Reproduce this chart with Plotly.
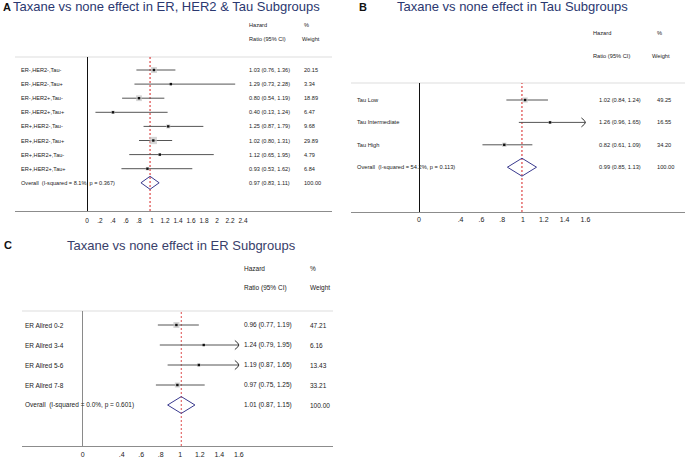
import plotly.graph_objects as go

W, H = 685, 458
FONT = "Liberation Sans, Arial, sans-serif"

# ---------------- data ----------------
a_labels = ["ER-,HER2-,Tau-", "ER-,HER2-,Tau+", "ER-,HER2+,Tau-", "ER-,HER2+,Tau+",
            "ER+,HER2-,Tau-", "ER+,HER2-,Tau+", "ER+,HER2+,Tau-", "ER+,HER2+,Tau+"]
a_hr = [1.03, 1.29, 0.80, 0.40, 1.25, 1.02, 1.12, 0.93]
a_lo = [0.76, 0.73, 0.54, 0.13, 0.87, 0.80, 0.65, 0.53]
a_hi = [1.36, 2.28, 1.19, 1.24, 1.79, 1.31, 1.95, 1.62]
a_wt = [20.15, 3.34, 18.89, 6.47, 9.68, 29.89, 4.79, 6.84]
a_overall_label = "Overall  (I-squared = 8.1%, p = 0.367)"
a_overall = [0.97, 0.83, 1.11]
a_ticks = [0, 0.2, 0.4, 0.6, 0.8, 1, 1.2, 1.4, 1.6, 1.8, 2, 2.2, 2.4]
a_ticktext = ["0", ".2", ".4", ".6", ".8", "1", "1.2", "1.4", "1.6", "1.8", "2", "2.2", "2.4"]
a_title = "Taxane vs none effect in ER, HER2 & Tau Subgroups"

b_labels = ["Tau Low", "Tau Intermediate", "Tau High"]
b_hr = [1.02, 1.26, 0.82]
b_lo = [0.84, 0.96, 0.61]
b_hi = [1.24, 1.65, 1.09]
b_wt = [49.25, 16.55, 34.20]
b_overall_label = "Overall  (I-squared = 54.2%, p = 0.113)"
b_overall = [0.99, 0.85, 1.13]
b_ticks = [0, 0.4, 0.6, 0.8, 1, 1.2, 1.4, 1.6]
b_ticktext = ["0", ".4", ".6", ".8", "1", "1.2", "1.4", "1.6"]
b_title = "Taxane vs none effect in Tau Subgroups"

c_labels = ["ER Allred 0-2", "ER Allred 3-4", "ER Allred 5-6", "ER Allred 7-8"]
c_hr = [0.96, 1.24, 1.19, 0.97]
c_lo = [0.77, 0.79, 0.87, 0.75]
c_hi = [1.19, 1.95, 1.65, 1.25]
c_wt = [47.21, 6.16, 13.43, 33.21]
c_overall_label = "Overall  (I-squared = 0.0%, p = 0.601)"
c_overall = [1.01, 0.87, 1.15]
c_ticks = [0, 0.4, 0.6, 0.8, 1, 1.2, 1.4, 1.6]
c_ticktext = ["0", ".4", ".6", ".8", "1", "1.2", "1.4", "1.6"]
c_title = "Taxane vs none effect in ER Subgroups"

# ---------------- layout geometry (pixels) ----------------
GEOM = {
    "A": dict(ax="", zero=87, scale=65, xdom=(15, 332), ydom=(57, 211), row0=70, step=14.1,
              clip=None, box_k=1.33, dia_h=0.46, tfont=5.6, tickfont=6.5, label_x=19,
              hr_x=247, wt_x=302, hdr_x=(247, 302, 300), hdr_y=(25, 39),
              letter_x=0.5, title_x=11, title_y=7, zerocolor="#111", redw=1.0,
              titlecolor="#2b3870", tickstand=3),
    "B": dict(ax="2", zero=419, scale=104, xdom=(351, 685), ydom=(83, 212), row0=100, step=22.4,
              clip=1.6, box_k=0.75, dia_h=0.4, tfont=5.7, tickfont=7, label_x=355,
              hr_x=597, wt_x=655, hdr_x=(591, 655, 650), hdr_y=(33, 56),
              letter_x=357, title_x=395, title_y=7, zerocolor="#111", redw=1.0,
              titlecolor="#2b3870", tickstand=1),
    "C": dict(ax="3", zero=82.7, scale=97.6, xdom=(22, 333), ydom=(311, 446), row0=325, step=20,
              clip=1.6, box_k=0.87, dia_h=0.42, tfont=6.5, tickfont=7, label_x=23,
              hr_x=242, wt_x=308, hdr_x=(242, 308, 308), hdr_y=(268, 288),
              letter_x=2, title_x=65, title_y=245, zerocolor="#8a8a8a", redw=0.8,
              titlecolor="#39406a", tickstand=2),
}

fig = go.Figure()
annotations = []
shapes = []


def px_x(p):
    return p / W


def px_y(p):
    return 1 - p / H


def add_panel(key, labels, hr, lo, hi, wt, ov_label, overall, ticks, ticktext, title):
    g = GEOM[key]
    xa = "x" + g["ax"]
    ya = "y" + g["ax"]
    xmin = (g["xdom"][0] - g["zero"]) / g["scale"]
    xmax = (g["xdom"][1] - g["zero"]) / g["scale"]
    ytop = (g["ydom"][0] - g["row0"]) / g["step"]
    ybot = (g["ydom"][1] - g["row0"]) / g["step"]
    n = len(labels)
    rows = list(range(n))
    clip = g["clip"]

    # CI lines
    lx, ly = [], []
    for i in rows:
        upper = hi[i] if clip is None else min(hi[i], clip)
        lx += [lo[i], upper, None]
        ly += [i, i, None]
    fig.add_trace(go.Scatter(x=lx, y=ly, mode="lines", line=dict(color="#555555", width=1),
                             xaxis=xa, yaxis=ya, hoverinfo="skip", showlegend=False))
    # arrows for truncated intervals
    if clip is not None:
        dx = 4 / g["scale"]
        dy = 4.5 / g["step"]
        for i in rows:
            if hi[i] > clip:
                fig.add_trace(go.Scatter(x=[clip - dx, clip, clip - dx], y=[i - dy, i, i + dy],
                                         mode="lines", line=dict(color="#333333", width=1, shape="spline"),
                                         xaxis=xa, yaxis=ya, hoverinfo="skip", showlegend=False))
    # weight boxes
    fig.add_trace(go.Scatter(x=hr, y=rows, mode="markers",
                             marker=dict(symbol="square", color="#c4c4c4",
                                         size=[g["box_k"] * w ** 0.5 for w in wt], line=dict(width=0)),
                             xaxis=xa, yaxis=ya, hoverinfo="skip", showlegend=False))
    # point estimates
    fig.add_trace(go.Scatter(x=hr, y=rows, mode="markers",
                             marker=dict(symbol="square", color="#111111", size=2.4, line=dict(width=0)),
                             xaxis=xa, yaxis=ya, hoverinfo="skip", showlegend=False))
    # overall diamond
    est, olo, ohi = overall
    h = g["dia_h"]
    fig.add_trace(go.Scatter(x=[olo, est, ohi, est, olo], y=[n, n - h, n, n + h, n], mode="lines",
                             line=dict(color="#3a3a8e", width=1),
                             xaxis=xa, yaxis=ya, hoverinfo="skip", showlegend=False))

    # axes
    fig.update_layout(**{
        "xaxis" + g["ax"]: dict(domain=[px_x(g["xdom"][0]), px_x(g["xdom"][1])], range=[xmin, xmax],
                                anchor=ya, showline=True, linecolor="#8c8c8c", linewidth=1,
                                zeroline=True, zerolinecolor=g["zerocolor"], zerolinewidth=1,
                                showgrid=False, tickmode="array", tickvals=ticks, ticktext=ticktext,
                                ticks="", ticklabelstandoff=g["tickstand"],
                                tickfont=dict(family=FONT, size=g["tickfont"], color="#222")),
        "yaxis" + g["ax"]: dict(domain=[px_y(g["ydom"][1]), px_y(g["ydom"][0])], range=[ybot, ytop],
                                anchor=xa, visible=False, showgrid=False, zeroline=False),
    })

    # top rule and overall line
    shapes.append(dict(type="line", xref=xa + " domain", yref=ya + " domain", x0=0, x1=1, y0=1, y1=1,
                       line=dict(color="#dddddd", width=1), layer="below"))
    shapes.append(dict(type="line", xref=xa, yref=ya + " domain", x0=est, x1=est, y0=0, y1=1,
                       line=dict(color="#d62020", width=g["redw"], dash="2px,2px"), layer="below"))

    tf = dict(family=FONT, size=g["tfont"], color="#222")
    # row labels and text columns
    all_labels = labels + [ov_label]
    all_hr = hr + [est]
    all_lo = lo + [olo]
    all_hi = hi + [ohi]
    all_wt = wt + [100.0]
    for i in range(n + 1):
        annotations.append(dict(xref="paper", yref=ya, x=px_x(g["label_x"]), y=i, text=all_labels[i],
                                xanchor="left", yanchor="middle", showarrow=False, font=tf))
        annotations.append(dict(xref="paper", yref=ya, x=px_x(g["hr_x"]), y=i,
                                text=f"{all_hr[i]:.2f} ({all_lo[i]:.2f}, {all_hi[i]:.2f})",
                                xanchor="left", yanchor="middle", showarrow=False, font=tf))
        annotations.append(dict(xref="paper", yref=ya, x=px_x(g["wt_x"]), y=i, text=f"{all_wt[i]:.2f}",
                                xanchor="left", yanchor="middle", showarrow=False, font=tf))
    # headers
    hx, px_pct, px_w = g["hdr_x"]
    y1, y2 = g["hdr_y"]
    for text, x, y in [("Hazard", hx, y1), ("Ratio (95% CI)", hx, y2), ("%", px_pct, y1), ("Weight", px_w, y2)]:
        annotations.append(dict(xref="paper", yref="paper", x=px_x(x), y=px_y(y), text=text,
                                xanchor="left", yanchor="middle", showarrow=False, font=tf))
    # titles
    annotations.append(dict(xref="paper", yref="paper", x=px_x(g["letter_x"]), y=px_y(g["title_y"]),
                            text="<b>" + key + "</b>", xanchor="left", yanchor="middle", showarrow=False,
                            font=dict(family=FONT, size=11, color="#111")))
    annotations.append(dict(xref="paper", yref="paper", x=px_x(g["title_x"]), y=px_y(g["title_y"]),
                            text=title, xanchor="left", yanchor="middle", showarrow=False,
                            font=dict(family=FONT, size=13, color=g["titlecolor"])))


add_panel("A", a_labels, a_hr, a_lo, a_hi, a_wt, a_overall_label, a_overall, a_ticks, a_ticktext, a_title)
add_panel("B", b_labels, b_hr, b_lo, b_hi, b_wt, b_overall_label, b_overall, b_ticks, b_ticktext, b_title)
add_panel("C", c_labels, c_hr, c_lo, c_hi, c_wt, c_overall_label, c_overall, c_ticks, c_ticktext, c_title)

fig.update_layout(width=W, height=H, margin=dict(l=0, r=0, t=0, b=0),
                  paper_bgcolor="white", plot_bgcolor="rgba(0,0,0,0)",
                  showlegend=False, annotations=annotations, shapes=shapes,
                  font=dict(family=FONT))

fig.write_html("out.html", config={"displayModeBar": False},
               post_script="document.body.style.margin='0';document.body.style.padding='0';"
                           "document.body.style.overflow='hidden';")
